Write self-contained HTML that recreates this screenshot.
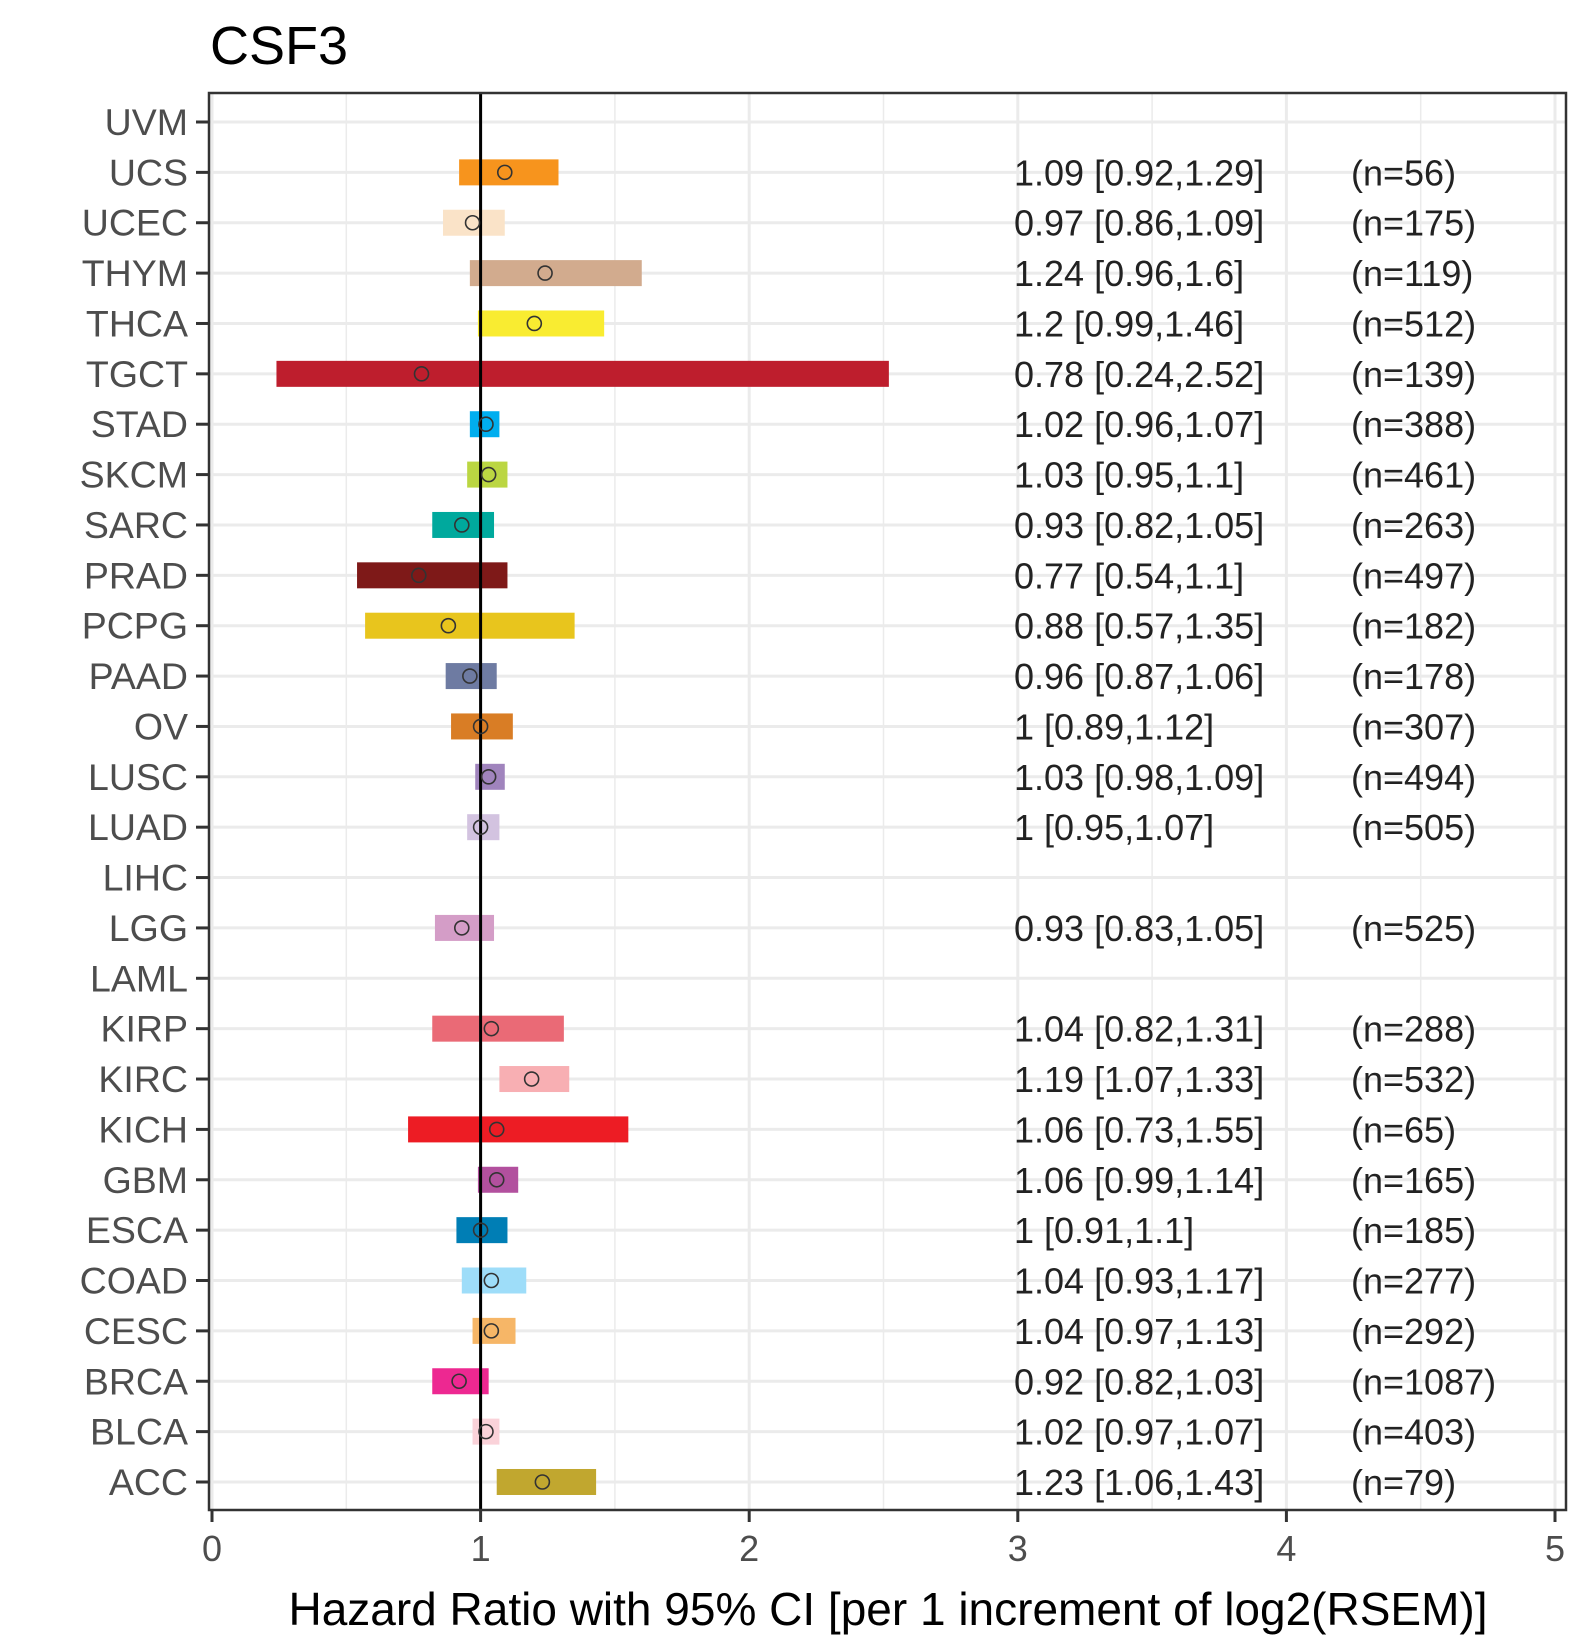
<!DOCTYPE html>
<html><head><meta charset="utf-8"><style>
html,body{margin:0;padding:0;background:#fff;}
svg{display:block;font-family:"Liberation Sans",Arial,sans-serif;}
</style></head><body>
<svg id="chart" width="1590" height="1650" viewBox="0 0 1590 1650">
<text x="210" y="64" font-size="54" fill="#000">CSF3</text>
<g id="grid"></g><g id="marks"></g><g id="axes"></g><g id="labels"></g>
<text x="888" y="1625" font-size="46" fill="#000" text-anchor="middle">Hazard Ratio with 95% CI [per 1 increment of log2(RSEM)]</text>
</svg>
<script>
const categories=["UVM","UCS","UCEC","THYM","THCA","TGCT","STAD","SKCM","SARC","PRAD","PCPG","PAAD","OV","LUSC","LUAD","LIHC","LGG","LAML","KIRP","KIRC","KICH","GBM","ESCA","COAD","CESC","BRCA","BLCA","ACC"];
const hr=[null,1.09,0.97,1.24,1.2,0.78,1.02,1.03,0.93,0.77,0.88,0.96,1,1.03,1,null,0.93,null,1.04,1.19,1.06,1.06,1,1.04,1.04,0.92,1.02,1.23];
const lo=[null,0.92,0.86,0.96,0.99,0.24,0.96,0.95,0.82,0.54,0.57,0.87,0.89,0.98,0.95,null,0.83,null,0.82,1.07,0.73,0.99,0.91,0.93,0.97,0.82,0.97,1.06];
const hi=[null,1.29,1.09,1.6,1.46,2.52,1.07,1.1,1.05,1.1,1.35,1.06,1.12,1.09,1.07,null,1.05,null,1.31,1.33,1.55,1.14,1.1,1.17,1.13,1.03,1.07,1.43];
const nval=[null,56,175,119,512,139,388,461,263,497,182,178,307,494,505,null,525,null,288,532,65,165,185,277,292,1087,403,79];
const hrText=[null,"1.09 [0.92,1.29]","0.97 [0.86,1.09]","1.24 [0.96,1.6]","1.2 [0.99,1.46]","0.78 [0.24,2.52]","1.02 [0.96,1.07]","1.03 [0.95,1.1]","0.93 [0.82,1.05]","0.77 [0.54,1.1]","0.88 [0.57,1.35]","0.96 [0.87,1.06]","1 [0.89,1.12]","1.03 [0.98,1.09]","1 [0.95,1.07]",null,"0.93 [0.83,1.05]",null,"1.04 [0.82,1.31]","1.19 [1.07,1.33]","1.06 [0.73,1.55]","1.06 [0.99,1.14]","1 [0.91,1.1]","1.04 [0.93,1.17]","1.04 [0.97,1.13]","0.92 [0.82,1.03]","1.02 [0.97,1.07]","1.23 [1.06,1.43]"];
const colors=["#888","#F7941D","#FAE3C8","#D2AB8E","#F9EC31","#BE1E2D","#00AEEF","#BBD642","#00A99D","#7E1918","#E8C51D","#6E7BA2","#D97D25","#A084BD","#D3C3E0","#888","#D49DC7","#888","#EA6A76","#F8AFB3","#ED1C24","#B2509E","#007EB5","#9EDDF9","#F6B667","#ED2891","#FAD2D9","#C1A72F"];
const xTicks=[0,1,2,3,4,5];
const xMinor=[0.5,1.5,2.5,3.5,4.5];
const NS="http://www.w3.org/2000/svg";
const PL=209,PR=1566,PT=93,PB=1510;
const X=v=>212+v*268.6;
const Y=i=>122+i*50.37;
function mk(parent,tag,attrs){const e=document.createElementNS(NS,tag);for(const k in attrs)e.setAttribute(k,attrs[k]);document.getElementById(parent).appendChild(e);return e;}
xMinor.forEach(v=>{const e=mk("grid","line",{x1:X(v),x2:X(v),y1:PT,y2:PB,stroke:"#ebebeb","stroke-width":1.5});

});
xTicks.forEach(v=>{const e=mk("grid","line",{x1:X(v),x2:X(v),y1:PT,y2:PB,stroke:"#ebebeb","stroke-width":3});

});
categories.forEach((c,i)=>{const e=mk("grid","line",{x1:PL,x2:PR,y1:Y(i),y2:Y(i),stroke:"#ebebeb","stroke-width":3});

});
categories.forEach((c,i)=>{
 if(hr[i]==null)return;
 const r=mk("marks","rect",{x:X(lo[i]),y:Y(i)-13,width:X(hi[i])-X(lo[i]),height:26,fill:colors[i]});
 
 
});
const ref=mk("marks","line",{x1:X(1),x2:X(1),y1:PT,y2:PB,stroke:"#000","stroke-width":3});


categories.forEach((c,i)=>{
 if(hr[i]==null)return;
 const p=mk("marks","circle",{cx:X(hr[i]),cy:Y(i),r:7,fill:"none",stroke:"#333","stroke-width":1.6});
 
 
 const t=mk("labels","text",{x:1014,y:Y(i)+13,"font-size":36,fill:"#222"});
 t.textContent=hrText[i];
 
 
 const n=mk("labels","text",{x:1351,y:Y(i)+13,"font-size":36,fill:"#222"});
 n.textContent="(n="+nval[i]+")";
 
 
});
const frame=mk("axes","rect",{x:PL,y:PT,width:PR-PL,height:PB-PT,fill:"none",stroke:"#333","stroke-width":2.5});


categories.forEach((c,i)=>{
 const tk=mk("axes","line",{x1:196,x2:PL,y1:Y(i),y2:Y(i),stroke:"#333","stroke-width":3});
 
 
 const t=mk("axes","text",{x:188,y:Y(i)+13,"font-size":37.5,fill:"#4d4d4d","text-anchor":"end"});
 t.textContent=c;
 
 
});
xTicks.forEach(v=>{
 const tk=mk("axes","line",{x1:X(v),x2:X(v),y1:PB,y2:PB+12,stroke:"#333","stroke-width":3});
 
 
 const t=mk("axes","text",{x:X(v),y:1561,"font-size":36,fill:"#4d4d4d","text-anchor":"middle"});
 t.textContent=String(v);
 
 
});
</script>
</body></html>
